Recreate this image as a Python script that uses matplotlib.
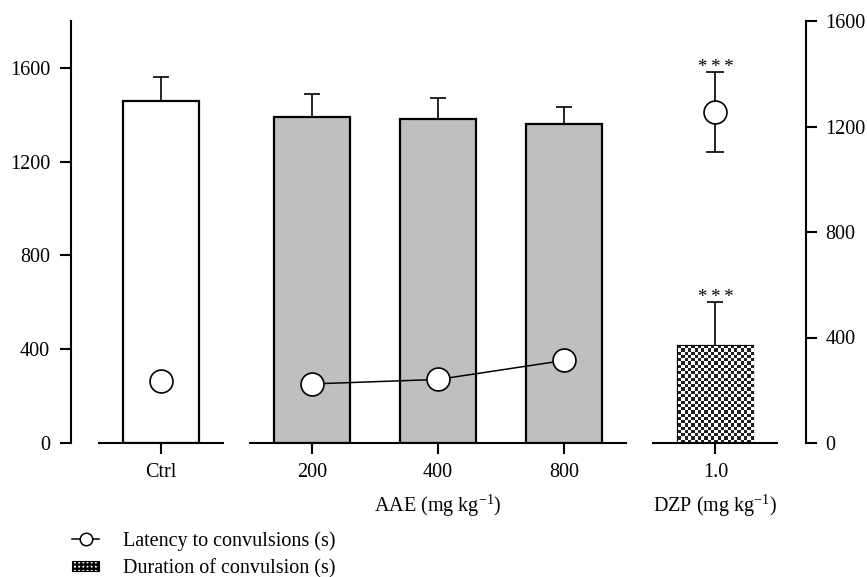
import numpy as np
import matplotlib
matplotlib.use('Agg')
import matplotlib.pyplot as plt
from matplotlib.lines import Line2D
from matplotlib.patches import Patch
from matplotlib.transforms import blended_transform_factory

# groups on the x axis
groups = ['Ctrl', '200', '400', '800', '1.0']
bar_colors = ['white', '#bfbfbf', '#bfbfbf', '#bfbfbf', 'checker']

# duration of convulsion (s), left axis
duration_mean = [1460, 1392, 1382, 1362, 414]
duration_sem = [103, 98, 91, 71, 188]

# latency to convulsions (s), right axis
latency_mean = [235, 224, 241, 313, 1255]
latency_sem = [0, 0, 0, 0, 153]

plt.rcParams['font.family'] = 'serif'
plt.rcParams['font.serif'] = ['Liberation Serif', 'DejaVu Serif']
plt.rcParams['mathtext.fontset'] = 'custom'
plt.rcParams['mathtext.rm'] = 'Liberation Serif'
plt.rcParams['mathtext.it'] = 'Liberation Serif:italic'
plt.rcParams['hatch.linewidth'] = 1.6

W, H = 867, 577
fig = plt.figure(figsize=(W / 100, H / 100), dpi=100)
ax = fig.add_axes([71 / W, 1 - 443 / H, (806 - 71) / W, (443 - 21) / H])
ax2 = ax.twinx()

xpos = np.array([0, 1.2, 2.2, 3.2, 4.4])
width = 0.6
fs = 14.5

bars = ax.bar(xpos, duration_mean, width=width, edgecolor='black', linewidth=1.6,
              color=['white' if c == 'checker' else c for c in bar_colors], zorder=2)
ax.errorbar(xpos, duration_mean, yerr=[np.zeros(len(xpos)), duration_sem], fmt='none',
            ecolor='black', elinewidth=1.2, capsize=6, capthick=1.2, zorder=1)

# checkered fill for the DZP bar
for b, c in zip(bars, bar_colors):
    if c != 'checker':
        continue
    x0, y0 = b.get_x(), b.get_y()
    w, h = b.get_width(), b.get_height()
    ncols = 23
    nrows = int(round(ncols * (h * 422 / 1800) / (w * 126)))
    board = np.indices((nrows, ncols)).sum(axis=0) % 2
    im = ax.imshow(board, cmap='gray', vmin=-0.15, vmax=1, extent=(x0, x0 + w, y0, y0 + h),
                   aspect='auto', interpolation='nearest', zorder=2)
    im.set_clip_path(b)

# baselines for each group
for lo, hi in [(0, 0), (1, 3), (4, 4)]:
    ax.hlines(0, xpos[lo] - 0.5, xpos[hi] + 0.5, color='black', linewidth=1.5,
              zorder=3, clip_on=False)

# latency markers: only the extract doses are joined
ax2.plot(xpos[1:4], latency_mean[1:4], color='black', linewidth=1.1, zorder=3)
ax2.errorbar(xpos, latency_mean, yerr=latency_sem, fmt='o', color='black', mfc='white',
             mec='black', mew=1.2, ms=16.5, elinewidth=1.2, capsize=6.5, capthick=1.2,
             zorder=4)

stars = '*\u2009*\u2009*'
star_font = ['Liberation Serif', 'DejaVu Serif']
ax.annotate(stars, (xpos[4], duration_mean[4] + duration_sem[4]), xytext=(0, -3),
            textcoords='offset points', ha='center', va='bottom', fontsize=13.5,
            family=star_font)
ax2.annotate(stars, (xpos[4], latency_mean[4] + latency_sem[4]), xytext=(0, -3),
             textcoords='offset points', ha='center', va='bottom', fontsize=13.5,
             family=star_font)

ax.set_xlim(-0.714, 5.119)
ax.set_ylim(0, 1800)
ax2.set_ylim(0, 1600)
ax.set_yticks([0, 400, 800, 1200, 1600])
ax2.set_yticks([0, 400, 800, 1200, 1600])
ax.set_xticks(xpos)
ax.set_xticklabels(groups)

for a in (ax, ax2):
    for s in ('top', 'bottom'):
        a.spines[s].set_visible(False)
ax.spines['right'].set_visible(False)
ax2.spines['left'].set_visible(False)
ax.spines['left'].set_linewidth(1.5)
ax2.spines['right'].set_linewidth(1.5)

ax.tick_params(axis='y', direction='out', length=8, width=1.5, pad=7, labelsize=fs)
ax2.tick_params(axis='y', direction='out', length=8, width=1.5, pad=6, labelsize=fs)
ax.tick_params(axis='x', direction='out', length=8, width=1.5, pad=6.5, labelsize=fs)

trans = blended_transform_factory(ax.transData, ax.transAxes)
ax.text(xpos[2], -0.148, 'AAE (mg kg$^{-1}$)', transform=trans, ha='center', va='center',
        fontsize=fs)
ax.text(xpos[4], -0.148, 'DZP (mg kg$^{-1}$)', transform=trans, ha='center', va='center',
        fontsize=fs)

handles = [Line2D([], [], color='black', linewidth=1.1, marker='o', ms=9, mfc='white',
                  mec='black', mew=1.1),
           Patch(facecolor='white', edgecolor='black', hatch='++++', linewidth=0.8)]
fig.legend(handles, ['Latency to convulsions (s)', 'Duration of convulsion (s)'],
           loc='upper left', bbox_to_anchor=(72 / W, 1 - 531 / H), frameon=False,
           fontsize=fs, handlelength=1.35, handleheight=0.45, handletextpad=1.2,
           labelspacing=0.4, borderpad=0, borderaxespad=0)

fig.savefig('out.png', dpi=100)
